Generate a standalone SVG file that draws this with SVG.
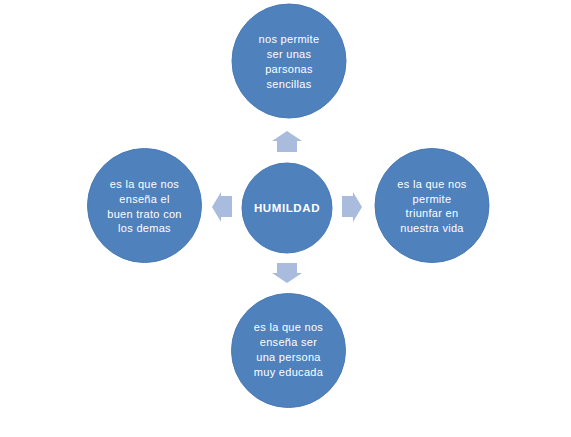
<svg xmlns="http://www.w3.org/2000/svg" width="571" height="437" viewBox="0 0 571 437">
<style>
.node{fill:#4F81BD;stroke:#4A7AB4;stroke-width:1}
.arr{fill:#A9BCDD}
text{font-family:"Liberation Sans","Open Sans",sans-serif;font-size:11px;fill:#FFFFFF;text-anchor:middle;letter-spacing:0.3px}
.b{font-weight:bold;font-size:11.5px;letter-spacing:0.6px}
</style>
<rect width="571" height="437" fill="#FFFFFF"/>
<g id="connectors">
<polygon class="arr" points="287,131 302,141 297,141 297,152 277,152 277,141 272,141"/>
<polygon class="arr" points="362,207 353,192 353,196 342,196 342,217 353,217 353,222"/>
<polygon class="arr" points="287,283 302,273 297,273 297,263 277,263 277,273 272,273"/>
<polygon class="arr" points="212,207 221,192 221,196 232,196 232,217 221,217 221,222"/>
</g>
<g id="center">
<circle class="node" cx="287" cy="208" r="45"/>
<text class="b" x="287" y="212">HUMILDAD</text>
</g>
<g id="top">
<circle class="node" cx="289" cy="61" r="57"/>
<text x="289" y="43">nos permite</text>
<text x="289" y="58">ser unas</text>
<text x="289" y="73">parsonas</text>
<text x="289" y="88">sencillas</text>
</g>
<g id="right">
<circle class="node" cx="432" cy="205.5" r="57"/>
<text x="432" y="188">es la que nos</text>
<text x="432" y="203">permite</text>
<text x="432" y="217">triunfar en</text>
<text x="432" y="232">nuestra vida</text>
</g>
<g id="bottom">
<circle class="node" cx="288.5" cy="350.5" r="57"/>
<text x="288.5" y="331">es la que nos</text>
<text x="288.5" y="346">enseña ser</text>
<text x="288.5" y="361">una persona</text>
<text x="288.5" y="376">muy educada</text>
</g>
<g id="left">
<circle class="node" cx="144.5" cy="205.5" r="57"/>
<text x="144.5" y="188">es la que nos</text>
<text x="144.5" y="203">enseña el</text>
<text x="144.5" y="218">buen trato con</text>
<text x="144.5" y="232">los demas</text>
</g>
</svg>
